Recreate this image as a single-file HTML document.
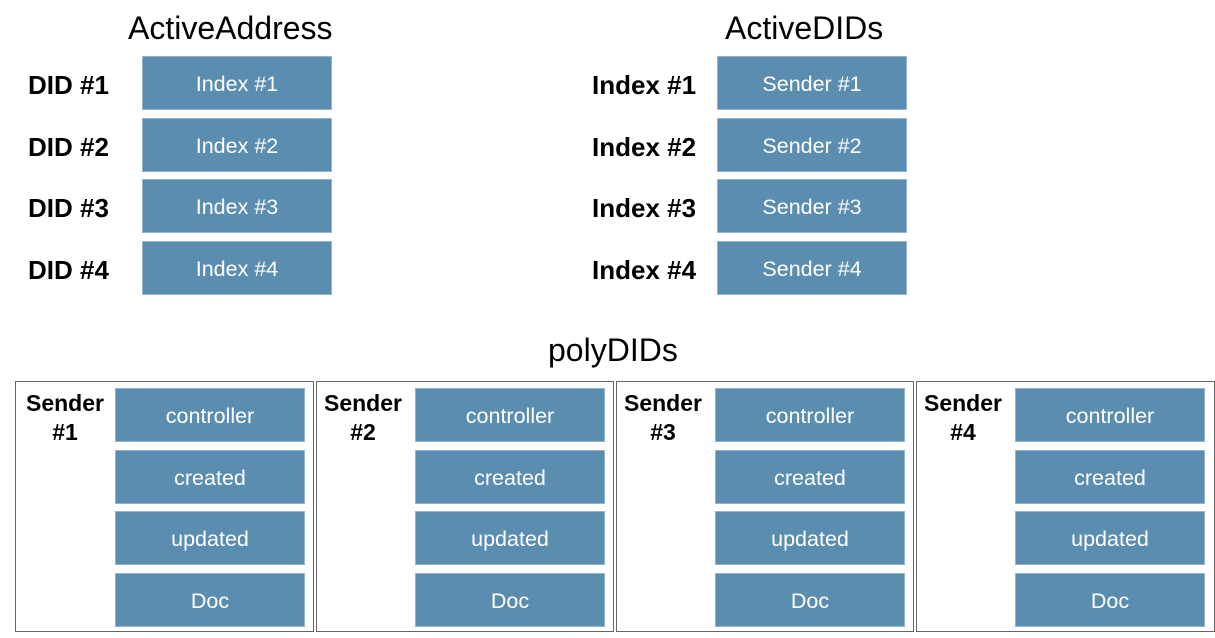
<!DOCTYPE html><html><head><style>
body{margin:0;width:1215px;height:638px;background:#fff;position:relative;font-family:"Liberation Sans",sans-serif;overflow:hidden}
.b{position:absolute;width:190px;height:54px;background:#5a8db0;border:1px solid #8fb4cc;box-sizing:border-box;color:#fff;font-size:21.5px;display:flex;align-items:center;justify-content:center;padding-top:3px}
.l{position:absolute;font-weight:bold;font-size:26px;color:#000}
.t{position:absolute;font-size:32px;color:#000}
.f{position:absolute;top:381px;height:251px;border:1px solid #666;box-sizing:border-box}
.s{position:absolute;font-weight:bold;font-size:23px;text-align:center;line-height:29px;width:90px}
</style></head><body>
<div class="t" style="left:128px;top:10px">ActiveAddress</div>
<div class="t" style="left:725px;top:10px">ActiveDIDs</div>
<div class="t" style="left:548px;top:332px">polyDIDs</div>

<div class="l" style="left:28px;top:70px">DID #1</div>
<div class="l" style="left:28px;top:132px">DID #2</div>
<div class="l" style="left:28px;top:193px">DID #3</div>
<div class="l" style="left:28px;top:255px">DID #4</div>
<div class="b" style="left:142px;top:56px">Index #1</div>
<div class="b" style="left:142px;top:118px">Index #2</div>
<div class="b" style="left:142px;top:179px">Index #3</div>
<div class="b" style="left:142px;top:241px">Index #4</div>

<div class="l" style="left:592px;top:70px">Index #1</div>
<div class="l" style="left:592px;top:132px">Index #2</div>
<div class="l" style="left:592px;top:193px">Index #3</div>
<div class="l" style="left:592px;top:255px">Index #4</div>
<div class="b" style="left:717px;top:56px">Sender #1</div>
<div class="b" style="left:717px;top:118px">Sender #2</div>
<div class="b" style="left:717px;top:179px">Sender #3</div>
<div class="b" style="left:717px;top:241px">Sender #4</div>

<div class="f" style="left:15px;width:299px"></div>
<div class="f" style="left:316px;width:298px"></div>
<div class="f" style="left:616px;width:298px"></div>
<div class="f" style="left:916px;width:299px"></div>

<div class="s" style="left:20px;top:389px">Sender<br>#1</div>
<div class="b" style="left:115px;top:388px">controller</div>
<div class="b" style="left:115px;top:450px">created</div>
<div class="b" style="left:115px;top:511px">updated</div>
<div class="b" style="left:115px;top:573px">Doc</div>

<div class="s" style="left:318px;top:389px">Sender<br>#2</div>
<div class="b" style="left:415px;top:388px">controller</div>
<div class="b" style="left:415px;top:450px">created</div>
<div class="b" style="left:415px;top:511px">updated</div>
<div class="b" style="left:415px;top:573px">Doc</div>

<div class="s" style="left:618px;top:389px">Sender<br>#3</div>
<div class="b" style="left:715px;top:388px">controller</div>
<div class="b" style="left:715px;top:450px">created</div>
<div class="b" style="left:715px;top:511px">updated</div>
<div class="b" style="left:715px;top:573px">Doc</div>

<div class="s" style="left:918px;top:389px">Sender<br>#4</div>
<div class="b" style="left:1015px;top:388px">controller</div>
<div class="b" style="left:1015px;top:450px">created</div>
<div class="b" style="left:1015px;top:511px">updated</div>
<div class="b" style="left:1015px;top:573px">Doc</div>
</body></html>
